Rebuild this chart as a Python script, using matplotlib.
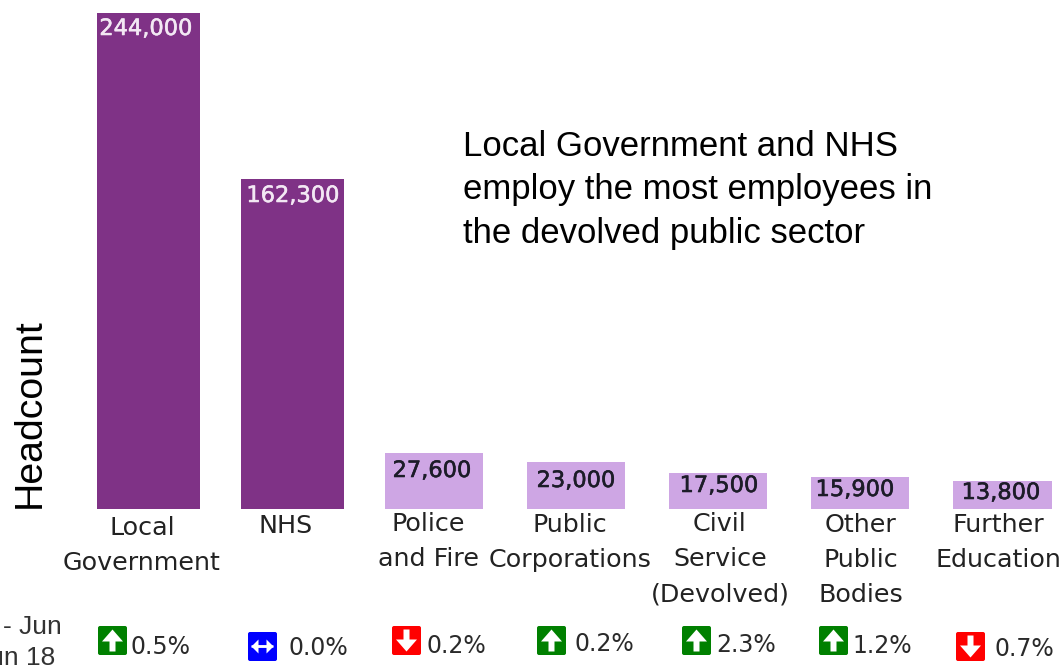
import matplotlib
matplotlib.use('Agg')
import matplotlib.pyplot as plt
import matplotlib.patheffects as pe
from matplotlib.patches import FancyBboxPatch, FancyArrow

categories = ['Local\nGovernment', 'NHS', 'Police\nand Fire', 'Public\nCorporations',
              'Civil\nService\n(Devolved)', 'Other\nPublic\nBodies', 'Further\nEducation']
headcount = [244000, 162300, 27600, 23000, 17500, 15900, 13800]
value_labels = ['244,000', '162,300', '27,600', '23,000', '17,500', '15,900', '13,800']
changes = ['0.5%', '0.0%', '0.2%', '0.2%', '2.3%', '1.2%', '0.7%']
directions = ['up', 'same', 'down', 'up', 'up', 'up', 'down']

# layout, in pixels from the top left of the figure
bar_x = [148.5, 292, 434, 576, 718, 860, 1002.5]
bar_w = [103, 103, 98, 98, 98, 98, 99]
label_x = [142, 286, 428, 570, 720, 861, 998]
label_y = [530, 528, 526, 527, 526, 527, 527]
icon_x = [98, 248, 392, 537, 682, 819, 956]
icon_y = [626, 632, 626, 626, 626, 626, 632]
change_x = [131, 288, 427, 575, 716, 852, 994]
change_y = [647, 648, 646, 644, 645, 646, 649]
value_x = [146, 293, 432, 576, 719, 855, 1001]
value_y = [29, 196, 471, 481, 486, 490, 493]

DARK = '#7f3286'
LIGHT = '#cea6e4'
colors = [DARK, DARK, LIGHT, LIGHT, LIGHT, LIGHT, LIGHT]
icon_colors = {'up': '#008000', 'same': '#0000ff', 'down': '#ff0000'}

fig = plt.figure(figsize=(10.64, 6.7), dpi=100)

# bars use a pixel x axis, the baseline is at pixel row 509
ax = fig.add_axes([0, (670 - 509) / 670, 1, 496 / 670])
ax.set_xlim(0, 1064)
ax.set_ylim(0, 244000)
ax.axis('off')
ax.bar(bar_x, headcount, width=bar_w, color=colors, edgecolor='none')

# everything else is placed on a pixel overlay
px = fig.add_axes([0, 0, 1, 1])
px.set_xlim(0, 1064)
px.set_ylim(670, 0)
px.axis('off')
px.patch.set_alpha(0)

for i, name in enumerate(categories):
    px.text(label_x[i], label_y[i] - 14, name, ha='center', va='top', fontsize=18.3,
            family='DejaVu Sans', color='#222222', linespacing=1.58, multialignment='center')
    t = px.text(value_x[i], value_y[i], value_labels[i], ha='center', va='center',
                fontsize=16.2, family='DejaVu Sans', color='#f3e8f4' if i < 2 else '#1c1c28')
    t.set_path_effects([pe.withStroke(linewidth=0.4, foreground=t.get_color())])


def draw_icon(x, y, kind):
    px.add_patch(FancyBboxPatch((x + 1, y + 1), 27, 27, boxstyle='round,pad=1,rounding_size=2',
                                facecolor=icon_colors[kind], edgecolor='none'))
    cx = x + 14.5
    cy = y + 14.5
    if kind == 'up':
        px.add_patch(FancyArrow(cx, cy + 11, 0, -22, width=6, head_width=21, head_length=12,
                                length_includes_head=True, color='white', lw=0))
    elif kind == 'down':
        px.add_patch(FancyArrow(cx, cy - 11, 0, 22, width=6, head_width=21, head_length=12,
                                length_includes_head=True, color='white', lw=0))
    else:
        px.add_patch(FancyArrow(cx - 11, cy, 22, 0, width=2.5, head_width=14, head_length=7,
                                length_includes_head=True, color='white', lw=0))
        px.add_patch(FancyArrow(cx + 11, cy, -22, 0, width=2.5, head_width=14, head_length=7,
                                length_includes_head=True, color='white', lw=0))


for i, change in enumerate(changes):
    draw_icon(icon_x[i], icon_y[i], directions[i])
    px.text(change_x[i], change_y[i], change, ha='left', va='center', fontsize=17,
            family='DejaVu Sans', color='#2a2a2a')

# callout text
callout = ['Local Government and NHS', 'employ the most employees in', 'the devolved public sector']
for line, y in zip(callout, [146, 190, 233]):
    px.text(463, y, line, ha='left', va='center', fontsize=25, family='Liberation Sans', color='black')

px.text(30, 508, 'Headcount', rotation=90, ha='center', va='bottom', fontsize=28.3,
        family='Liberation Sans', color='black')

# period label runs off the left edge
px.text(62, 627, '- Jun', ha='right', va='center', fontsize=19, family='Liberation Sans', color='#333333')
px.text(55, 658, 'Jun 18', ha='right', va='center', fontsize=19, family='Liberation Sans', color='#333333')

fig.savefig('out.png', dpi=100)
